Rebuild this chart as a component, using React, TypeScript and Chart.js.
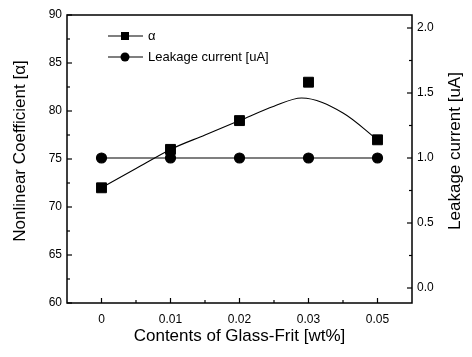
import React, { useEffect, useRef } from "react";
import { Chart, registerables } from "chart.js";
Chart.register(...registerables);

// ---- data ----
const categories = ["0", "0.01", "0.02", "0.03", "0.05"];
const alphaValues = [72, 76, 79, 83, 77];
const leakageValues = [1.0, 1.0, 1.0, 1.0, 1.0];
// fitted curve (x in category index units)
const fitX = [0, 0.5, 1, 1.5, 2, 2.5, 2.9, 3.5, 4];
const fitY = [72, 74, 76, 77.5, 79, 80.5, 81.35, 79.8, 77];
const leftTicks = [60, 65, 70, 75, 80, 85, 90];
const leftMinor = [62.5, 67.5, 72.5, 77.5, 82.5, 87.5];
const rightTicks = [0, 0.5, 1.0, 1.5, 2.0];
const rightMinor = [0.25, 0.75, 1.25, 1.75];
const xMinor = [0.5, 1.5, 2.5, 3.5];

const FONT = "'Liberation Sans', Arial, sans-serif";

const framePlugin = {
  id: "frame",
  beforeDatasetsDraw(chart: any) {
    const { ctx, chartArea: a, scales } = chart;
    ctx.save();
    ctx.strokeStyle = "#000";
    ctx.lineWidth = 1.5;
    ctx.strokeRect(a.left, a.top, a.right - a.left, a.bottom - a.top);
    ctx.lineWidth = 1.2;
    const x = scales.x, y = scales.y, y2 = scales.y2;
    const tick = (x1: number, y1: number, x2: number, y2_: number) => {
      ctx.beginPath();
      ctx.moveTo(x1, y1);
      ctx.lineTo(x2, y2_);
      ctx.stroke();
    };
    categories.forEach((_, i) => {
      const px = x.getPixelForValue(i);
      tick(px, a.bottom, px, a.bottom - 5);
    });
    xMinor.forEach((v) => {
      const px = x.getPixelForValue(v);
      tick(px, a.bottom, px, a.bottom - 3);
    });
    leftTicks.forEach((v) => {
      const py = y.getPixelForValue(v);
      tick(a.left, py, a.left + 5, py);
    });
    leftMinor.forEach((v) => {
      const py = y.getPixelForValue(v);
      tick(a.left, py, a.left + 3, py);
    });
    rightTicks.forEach((v) => {
      const py = y2.getPixelForValue(v);
      tick(a.right, py, a.right - 5, py);
    });
    rightMinor.forEach((v) => {
      const py = y2.getPixelForValue(v);
      tick(a.right, py, a.right - 3, py);
    });
    ctx.restore();
  },
  afterDraw(chart: any) {
    const { ctx } = chart;
    ctx.save();
    ctx.fillStyle = "#000";
    ctx.strokeStyle = "#000";
    // axis titles (vertical)
    ctx.font = `17px ${FONT}`;
    ctx.textAlign = "center";
    ctx.textBaseline = "middle";
    ctx.save();
    ctx.translate(20, 151);
    ctx.rotate(-Math.PI / 2);
    ctx.fillText("Nonlinear Coefficient [α]", 0, 0);
    ctx.restore();
    ctx.save();
    ctx.translate(455, 151);
    ctx.rotate(-Math.PI / 2);
    ctx.fillText("Leakage current [uA]", 0, 0);
    ctx.restore();
    // legend
    const rows = [
      { label: "α", style: "rect", r: 5, y: 36 },
      { label: "Leakage current [uA]", style: "circle", r: 4.5, y: 57 },
    ];
    ctx.font = `13px ${FONT}`;
    ctx.textAlign = "left";
    rows.forEach((row) => {
      ctx.lineWidth = 1.2;
      ctx.beginPath();
      ctx.moveTo(108, row.y);
      ctx.lineTo(143, row.y);
      ctx.stroke();
      ctx.beginPath();
      if (row.style === "rect") {
        ctx.rect(125 - 4, row.y - 4, 8, 8);
      } else {
        ctx.arc(125, row.y, row.r, 0, Math.PI * 2);
      }
      ctx.fill();
      ctx.fillText(row.label, 148, row.y);
    });
    ctx.restore();
  },
};

export default function App() {
  const ref = useRef<HTMLCanvasElement>(null);
  useEffect(() => {
    if (!ref.current) return;
    const chart = new Chart(ref.current, {
      type: "scatter",
      data: {
        datasets: [
          {
            label: "fit",
            data: fitX.map((xv, i) => ({ x: xv, y: fitY[i] })),
            showLine: true,
            borderColor: "#000",
            borderWidth: 1.1,
            pointRadius: 0,
            cubicInterpolationMode: "monotone",
            yAxisID: "y",
          },
          {
            label: "α",
            data: alphaValues.map((v, i) => ({ x: i, y: v })),
            showLine: false,
            backgroundColor: "#000",
            borderColor: "#000",
            pointStyle: "rect",
            pointRadius: 7,
            yAxisID: "y",
          },
          {
            label: "Leakage current [uA]",
            data: leakageValues.map((v, i) => ({ x: i, y: v })),
            showLine: true,
            borderColor: "#000",
            backgroundColor: "#000",
            borderWidth: 1.2,
            pointStyle: "circle",
            pointRadius: 5,
            yAxisID: "y2",
          },
        ],
      },
      options: {
        animation: false,
        responsive: false,
        maintainAspectRatio: false,
        layout: { padding: { top: 15, left: 0, right: 0, bottom: 0 } },
        plugins: { legend: { display: false }, tooltip: { enabled: false } },
        scales: {
          x: {
            type: "linear",
            min: -0.5,
            max: 4.5,
            afterBuildTicks: (s: any) => {
              s.ticks = categories.map((_, i) => ({ value: i }));
            },
            afterFit: (s: any) => {
              s.height = 54;
            },
            grid: { display: false, drawTicks: false },
            border: { display: false },
            ticks: {
              padding: 9,
              color: "#000",
              font: { family: FONT, size: 12 },
              callback: (v: any) => categories[v as number] ?? "",
              maxRotation: 0,
            },
            title: {
              display: true,
              text: "Contents of Glass-Frit [wt%]",
              color: "#000",
              font: { family: FONT, size: 17 },
              padding: { top: 0, bottom: 10 },
            },
          },
          y: {
            position: "left",
            min: 60,
            max: 90,
            afterBuildTicks: (s: any) => {
              s.ticks = leftTicks.map((v) => ({ value: v }));
            },
            afterFit: (s: any) => {
              s.width = 67;
            },
            grid: { display: false, drawTicks: false },
            border: { display: false },
            ticks: {
              padding: 5,
              color: "#000",
              font: { family: FONT, size: 12 },
            },
          },
          y2: {
            position: "right",
            min: -0.1154,
            max: 2.1,
            afterBuildTicks: (s: any) => {
              s.ticks = rightTicks.map((v) => ({ value: v }));
            },
            afterFit: (s: any) => {
              s.width = 60;
            },
            grid: { display: false, drawTicks: false },
            border: { display: false },
            ticks: {
              padding: 5,
              color: "#000",
              font: { family: FONT, size: 12 },
              callback: (v: any) => Number(v).toFixed(1),
            },
          },
        },
      },
      plugins: [framePlugin],
    } as any);
    return () => chart.destroy();
  }, []);
  return (
    <div style={{ position: "fixed", left: 0, top: 0, width: 472, height: 357, background: "#fff" }}>
      <canvas ref={ref} width={472} height={357} style={{ width: 472, height: 357 }} />
    </div>
  );
}
